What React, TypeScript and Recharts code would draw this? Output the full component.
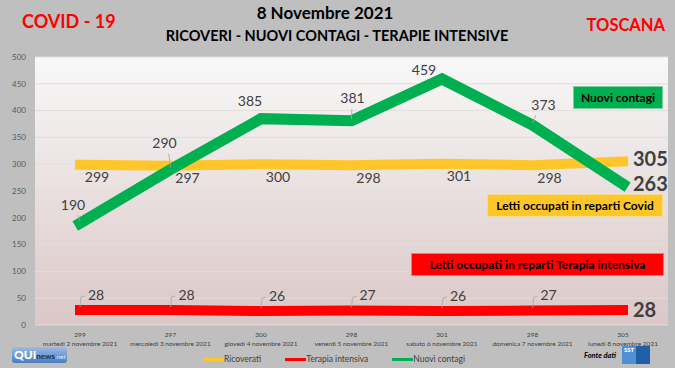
import { CartesianGrid, Legend, Line, LineChart, XAxis, YAxis } from "recharts";

const days = [
  "martedì 2 novembre 2021",
  "mercoledì 3 novembre 2021",
  "giovedì 4 novembre 2021",
  "venerdì 5 novembre 2021",
  "sabato 6 novembre 2021",
  "domenica 7 novembre 2021",
  "lunedì 8 novembre 2021",
];
const ricoverati = [299, 297, 300, 298, 301, 298, 305];
const terapiaIntensiva = [28, 28, 26, 27, 26, 27, 28];
const nuoviContagi = [190, 290, 385, 381, 459, 373, 263];
const yTicks = [0, 50, 100, 150, 200, 250, 300, 350, 400, 450, 500];

const data = days.map((day, i) => ({
  day,
  ricoverati: ricoverati[i],
  terapia: terapiaIntensiva[i],
  nuovi: nuoviContagi[i],
}));

const FONT = "Lato, 'Open Sans', sans-serif";
const YELLOW = "#ffc629";
const RED = "#ff0000";
const GREEN = "#00b050";
const LABEL = "#404040";

// label offsets (dx, dy) from each point
const greenOffsets = [[-7, -17], [-6, -25], [-11, -16], [1, -21], [-18, -8], [11, -19]];
const greenLeader = [true, true, false, true, false, true];

const makeLabel = (series: "ricoverati" | "terapia" | "nuovi") => (props: any) => {
  const { x, y, value, index } = props;
  const last = index === days.length - 1;
  if (last) {
    const dy = series === "nuovi" ? 2 : series === "ricoverati" ? -1 : 2;
    return (
      <text x={x + 10} y={y + dy} dominantBaseline="middle" fontFamily={FONT} fontSize={20} fontWeight={700} fill={LABEL}>
        {value}
      </text>
    );
  }
  let dx = 0;
  let dy = 0;
  let leader: any = null;
  if (series === "nuovi") {
    dx = greenOffsets[index][0];
    dy = greenOffsets[index][1];
    if (greenLeader[index]) {
      leader = <line x1={x + dx * 0.3} y1={y + dy + 9} x2={x} y2={y - 2} stroke="#a6a6a6" strokeWidth={0.8} />;
    }
  } else if (series === "ricoverati") {
    dx = 17;
    dy = 14;
  } else {
    dx = 16;
    dy = -14;
    leader = (
      <polyline points={`${x},${y - 3} ${x + 1},${y - 13} ${x + 5},${y - 14}`} fill="none" stroke="#a6a6a6" strokeWidth={0.8} />
    );
  }
  return (
    <g>
      {leader}
      <text x={x + dx} y={y + dy} textAnchor="middle" dominantBaseline="middle" fontFamily={FONT} fontSize={14} fill={LABEL}>
        {value}
      </text>
    </g>
  );
};

const DayTick = (props: any) => {
  const { x, y, payload, index } = props;
  return (
    <g transform={`translate(${x},${y})`}>
      <text x={0} y={4} textAnchor="middle" fontFamily={FONT} fontSize={6.5} fill={LABEL}>
        {ricoverati[index]}
      </text>
      <text x={0} y={13} textAnchor="middle" fontFamily={FONT} fontSize={6.5} fill={LABEL}>
        {payload.value}
      </text>
    </g>
  );
};

const legendItems = [
  { name: "Ricoverati", color: YELLOW },
  { name: "Terapia intensiva", color: RED },
  { name: "Nuovi contagi", color: GREEN },
];

const LegendContent = () => (
  <div style={{ display: "flex", justifyContent: "center", gap: 24, fontFamily: FONT, fontSize: 8.5, color: LABEL, paddingTop: 3 }}>
    {legendItems.map((it) => (
      <div key={it.name} style={{ display: "flex", alignItems: "center" }}>
        <span style={{ display: "inline-block", width: 21, height: 3, background: it.color }} />
        <span>{it.name}</span>
      </div>
    ))}
  </div>
);

const box = (left: number, top: number, width: number, height: number, bg: string, border: string, text: string) => (
  <div
    style={{
      position: "absolute",
      left,
      top,
      width,
      height,
      background: bg,
      border: `1px solid ${border}`,
      boxSizing: "border-box",
      display: "flex",
      alignItems: "center",
      justifyContent: "center",
      fontFamily: FONT,
      fontWeight: 700,
      fontSize: 12,
      color: "#000",
    }}
  >
    {text}
  </div>
);

export default function App() {
  return (
    <div style={{ position: "absolute", left: 0, top: 0, width: 675, height: 368, background: "#bfbfbf", overflow: "hidden" }}>
      <LineChart width={675} height={368} data={data} margin={{ top: 57, right: 7, left: 0, bottom: 2 }}>
        <defs>
          <linearGradient id="plotBg" x1="0" y1="0" x2="0" y2="1">
            <stop offset="0%" stopColor="#f8f8f8" />
            <stop offset="100%" stopColor="#dbc7c7" />
          </linearGradient>
        </defs>
        <CartesianGrid vertical={false} fill="url(#plotBg)" stroke="#e4dcdc" strokeWidth={1} />
        <XAxis
          dataKey="day"
          axisLine={false}
          tickLine={false}
          interval={0}
          height={26}
          padding={{ left: 45, right: 45 }}
          tick={<DayTick />}
        />
        <YAxis
          domain={[0, 500]}
          ticks={yTicks}
          axisLine={false}
          tickLine={false}
          width={35}
          tickSize={0}
          tickMargin={9}
          tick={{ fontFamily: FONT, fontSize: 8, fill: "#595959" }}
        />
        <Legend verticalAlign="bottom" height={15} content={<LegendContent />} />
        <Line
          type="linear"
          dataKey="ricoverati"
          name="Ricoverati"
          stroke={YELLOW}
          strokeWidth={10}
          strokeLinecap="square"
          dot={false}
          activeDot={false}
          isAnimationActive={false}
          label={makeLabel("ricoverati")}
        />
        <Line
          type="linear"
          dataKey="terapia"
          name="Terapia intensiva"
          stroke={RED}
          strokeWidth={10}
          strokeLinecap="square"
          dot={false}
          activeDot={false}
          isAnimationActive={false}
          label={makeLabel("terapia")}
        />
        <Line
          type="linear"
          dataKey="nuovi"
          name="Nuovi contagi"
          stroke={GREEN}
          strokeWidth={11}
          strokeLinecap="square"
          strokeLinejoin="miter"
          dot={false}
          activeDot={false}
          isAnimationActive={false}
          label={makeLabel("nuovi")}
        />
      </LineChart>

      <div style={{ position: "absolute", left: 22, top: 10, fontFamily: FONT, fontWeight: 700, fontSize: 18, color: RED, lineHeight: "22px" }}>
        COVID - 19
      </div>
      <div style={{ position: "absolute", left: 0, width: 650, top: 2, textAlign: "center", fontFamily: FONT, fontWeight: 700, fontSize: 17, color: "#000", lineHeight: "22px" }}>
        8 Novembre 2021
      </div>
      <div style={{ position: "absolute", left: 0, width: 674, top: 27, textAlign: "center", fontFamily: FONT, fontWeight: 700, fontSize: 14.5, color: "#000", lineHeight: "18px" }}>
        RICOVERI - NUOVI CONTAGI - TERAPIE INTENSIVE
      </div>
      <div style={{ position: "absolute", right: 10, top: 14, fontFamily: FONT, fontWeight: 700, fontSize: 16.5, color: RED, lineHeight: "22px" }}>
        TOSCANA
      </div>

      {box(573, 86, 90, 23, GREEN, "#7fd0a0", "Nuovi contagi")}
      {box(487, 194, 176, 23, YELLOW, "#f2dc90", "Letti occupati in reparti Covid")}
      {box(411, 253, 253, 23, RED, "#ff7070", "Letti occupati in reparti Terapia intensiva")}

      <div
        style={{
          position: "absolute",
          left: 12,
          top: 347,
          width: 55,
          height: 16,
          borderRadius: 3,
          background: "linear-gradient(#9bbbe3, #4a7dbd)",
          fontFamily: FONT,
          lineHeight: "16px",
          paddingLeft: 2,
          boxSizing: "border-box",
          whiteSpace: "nowrap",
          overflow: "hidden",
          display: "flex",
          alignItems: "baseline",
        }}
      >
        <span style={{ color: "#fff", fontWeight: 900, fontSize: 12 }}>QUI</span>
        <span style={{ color: "#1d2f50", fontWeight: 700, fontSize: 8 }}>news</span>
        <span style={{ color: "#dbe7f7", fontSize: 6.5 }}>.net</span>
      </div>
      <div style={{ position: "absolute", left: 584, top: 351, fontFamily: FONT, fontWeight: 700, fontStyle: "italic", fontSize: 7.5, color: "#000" }}>
        Fonte dati
      </div>
      <div style={{ position: "absolute", left: 622, top: 346, width: 28, height: 18, display: "flex" }}>
        <div style={{ width: 14, height: 18, background: "#4f8fd6", color: "#fff", fontFamily: FONT, fontWeight: 900, fontSize: 6, textAlign: "center" }}>SST</div>
        <div style={{ width: 14, height: 18, background: "#1e5fa8" }} />
      </div>
    </div>
  );
}
